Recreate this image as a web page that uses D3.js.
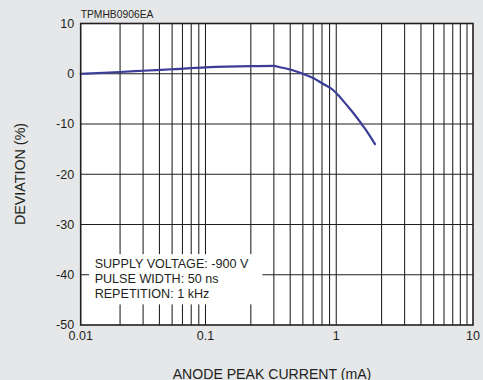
<!DOCTYPE html>
<html>
<head>
<meta charset="utf-8">
<script src="https://cdn.jsdelivr.net/npm/d3@7"></script>
<style>
  html, body { margin: 0; padding: 0; background: #e6e7e8; }
  svg { display: block; font-family: "Liberation Sans", Arial, Helvetica, sans-serif; }
</style>
</head>
<body>
<svg id="chart" width="483" height="380"></svg>
<script>
// Anode peak current (mA) vs. deviation (%)
const currentMA = [0.01, 0.02, 0.03, 0.05, 0.09, 0.2, 0.3, 0.334, 0.4, 0.5, 0.6, 0.7, 0.85, 0.93, 1.08, 1.25, 1.41, 1.58, 1.78];
const deviationPct = [0, 0.35, 0.6, 0.9, 1.25, 1.5, 1.55, 1.3, 0.85, 0, -0.85, -1.9, -3.23, -4.23, -6.2, -8.2, -10.05, -11.85, -14.0];

// Vertical grid: 2..9 within each decade
const xGridValues = [0.02, 0.03, 0.04, 0.05, 0.06, 0.07, 0.08, 0.09,
                     0.2, 0.3, 0.4, 0.5, 0.6, 0.7, 0.8, 0.9,
                     2, 3, 4, 5, 6, 7, 8, 9];
// Decade labels sit on the last grid line of each decade
const xTickAt = [0.01, 0.09, 0.9, 10];
const xTickLabels = ["0.01", "0.1", "1", "10"];
const yTickValues = [10, 0, -10, -20, -30, -40, -50];
const yGridValues = [0, -10, -20, -30, -40];

const conditions = ["SUPPLY VOLTAGE: -900 V", "PULSE WIDTH: 50 ns", "REPETITION: 1 kHz"];
const chartCode = "TPMHB0906EA";

const plot = { left: 80.7, top: 23.5, right: 473, bottom: 325 };

const svg = d3.select("#chart");

const x = d3.scaleLog().domain([0.01, 10]).range([plot.left, plot.right]);
const y = d3.scaleLinear().domain([-50, 10]).range([plot.bottom, plot.top]);

// plot background
svg.append("rect")
  .attr("x", plot.left).attr("y", plot.top)
  .attr("width", plot.right - plot.left).attr("height", plot.bottom - plot.top)
  .attr("fill", "#ffffff");

const grid = svg.append("g").attr("stroke", "#1e1e1e").attr("stroke-width", 1.05);
grid.selectAll("line.v").data(xGridValues).join("line")
  .attr("class", "v")
  .attr("x1", d => x(d)).attr("x2", d => x(d))
  .attr("y1", plot.top).attr("y2", plot.bottom);
grid.selectAll("line.h").data(yGridValues).join("line")
  .attr("class", "h")
  .attr("x1", plot.left).attr("x2", plot.right)
  .attr("y1", d => y(d)).attr("y2", d => y(d));

// conditions box (white panel over the grid)
const boxX = x(0.0116), boxY = y(-35.9);
svg.append("rect")
  .attr("x", boxX).attr("y", boxY)
  .attr("width", x(0.245) - boxX).attr("height", y(-45.9) - boxY)
  .attr("fill", "#ffffff");
svg.append("g")
  .selectAll("text").data(conditions).join("text")
  .attr("x", boxX + 5.5)
  .attr("y", (d, i) => boxY + 13.7 + i * 15)
  .attr("font-size", 12.6)
  .attr("fill", "#231f20")
  .text(d => d);

// curve
const line = d3.line()
  .x((d, i) => x(currentMA[i]))
  .y(d => y(d))
  .curve(d3.curveMonotoneX);
svg.append("path")
  .datum(deviationPct)
  .attr("d", line)
  .attr("fill", "none")
  .attr("stroke", "#3b3d98")
  .attr("stroke-width", 2.2)
  .attr("stroke-linejoin", "round")
  .attr("stroke-linecap", "round");

// frame
svg.append("rect")
  .attr("x", plot.left).attr("y", plot.top)
  .attr("width", plot.right - plot.left).attr("height", plot.bottom - plot.top)
  .attr("fill", "none")
  .attr("stroke", "#231f20")
  .attr("stroke-width", 1.6);

// y tick labels
svg.append("g")
  .selectAll("text").data(yTickValues).join("text")
  .attr("x", plot.left - 6.5)
  .attr("y", d => y(d) + 4.3)
  .attr("text-anchor", "end")
  .attr("font-size", 12.5)
  .attr("fill", "#231f20")
  .text(d => d);

// x tick labels
svg.append("g")
  .selectAll("text").data(xTickAt).join("text")
  .attr("x", d => x(d))
  .attr("y", 340)
  .attr("text-anchor", "middle")
  .attr("font-size", 12.5)
  .attr("fill", "#231f20")
  .text((d, i) => xTickLabels[i]);

// axis titles
svg.append("text")
  .attr("x", 272)
  .attr("y", 378.5)
  .attr("text-anchor", "middle")
  .attr("font-size", 14.1)
  .attr("fill", "#231f20")
  .text("ANODE PEAK CURRENT (mA)");

svg.append("text")
  .attr("transform", "translate(25,174) rotate(-90)")
  .attr("text-anchor", "middle")
  .attr("font-size", 14.3)
  .attr("fill", "#231f20")
  .text("DEVIATION (%)");

// chart code
svg.append("text")
  .attr("x", plot.left)
  .attr("y", 17.5)
  .attr("font-size", 10.3)
  .attr("fill", "#231f20")
  .text(chartCode);
</script>
</body>
</html>
